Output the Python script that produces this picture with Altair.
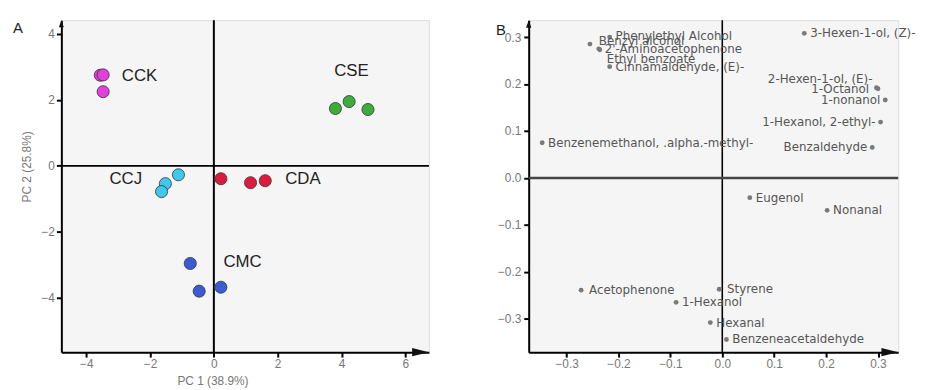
import altair as alt
import pandas as pd

# ---------------- Panel A: PCA scores ----------------
groups = ["CCK", "CCK", "CCK", "CSE", "CSE", "CSE", "CCJ", "CCJ", "CCJ",
          "CDA", "CDA", "CDA", "CMC", "CMC", "CMC"]
pc1 = [-3.56, -3.47, -3.47, 3.81, 4.24, 4.83, -1.11, -1.52, -1.64,
       0.22, 1.15, 1.61, -0.74, -0.46, 0.22]
pc2 = [2.75, 2.76, 2.25, 1.74, 1.95, 1.71, -0.27, -0.54, -0.78,
       -0.39, -0.51, -0.45, -2.96, -3.80, -3.68]

group_names = ["CCK", "CSE", "CCJ", "CDA", "CMC"]
group_colors = ["#e43ede", "#3fab3a", "#3ec8f0", "#e0193f", "#3b5bd6"]
group_label_x = [-2.33, 4.31, -2.76, 2.79, 0.90]
group_label_y = [2.72, 2.87, -0.39, -0.39, -2.93]

# ---------------- Panel B: loadings ----------------
compounds = ["Phenylethyl Alcohol", "Benzyl alcohol", "2'-Aminoacetophenone",
             "Ethyl benzoate", "Cinnamaldehyde, (E)-",
             "Benzenemethanol, .alpha.-methyl-", "3-Hexen-1-ol, (Z)-",
             "2-Hexen-1-ol, (E)-", "1-Octanol", "1-nonanol",
             "1-Hexanol, 2-ethyl-", "Benzaldehyde", "Eugenol", "Nonanal",
             "Acetophenone", "Styrene", "1-Hexanol", "Hexanal",
             "Benzeneacetaldehyde"]
load1 = [-0.217, -0.255, -0.238, -0.236, -0.217, -0.347, 0.158, 0.297, 0.300,
         0.314, 0.305, 0.289, 0.053, 0.202, -0.272, -0.006, -0.089, -0.023, 0.008]
load2 = [0.300, 0.285, 0.275, 0.273, 0.237, 0.075, 0.308, 0.192, 0.190,
         0.166, 0.119, 0.065, -0.042, -0.069, -0.239, -0.237, -0.265, -0.308, -0.344]

# axis ranges / ticks
A_X = [-4.78, 6.74]
A_Y = [-5.65, 4.42]
A_XTICKS = [-4, -2, 0, 2, 4, 6]
A_YTICKS = [-4, -2, 0, 2, 4]
B_X = [-0.373, 0.339]
B_Y = [-0.371, 0.336]
B_TICKS = [-0.3, -0.2, -0.1, 0.0, 0.1, 0.2, 0.3]

# ---------------- label layout (pixels) ----------------
RIGHT_LABELS = {"2-Hexen-1-ol, (E)-", "1-Octanol", "1-nonanol",
                "1-Hexanol, 2-ethyl-", "Benzaldehyde"}
NUDGE = {"Benzyl alcohol": (9, -3), "Ethyl benzoate": (7, 9),
         "2-Hexen-1-ol, (E)-": (-4, -9), "1-Octanol": (-9, 0),
         "Phenylethyl Alcohol": (6, -1), "Acetophenone": (8, 0),
         "Styrene": (8, 0)}

FONT = "Liberation Sans"
LBL_FONT = "DejaVu Sans"
ONE = pd.DataFrame({"k": [0]})
RIGHT_ARROW = "M0,0L-2,-0.5L-2,0.5Z"
UP_ARROW = "M0,0L-0.6,1.7L0.6,1.7Z"

# ===================== Panel A =====================
dfA = pd.DataFrame({"group": groups, "pc1": pc1, "pc2": pc2})
dfAL = pd.DataFrame({"group": group_names, "lx": group_label_x, "ly": group_label_y})

xA = alt.X("pc1:Q", scale=alt.Scale(domain=A_X, nice=False, zero=False),
           axis=alt.Axis(values=A_XTICKS, title="PC 1 (38.9%)", titleX=153,
                         titlePadding=6, format="d"))
yA = alt.Y("pc2:Q", scale=alt.Scale(domain=A_Y, nice=False, zero=False),
           axis=alt.Axis(values=A_YTICKS, title="PC 2 (25.8%)", titleY=148,
                         titlePadding=8, format="d"))

ptsA = alt.Chart(dfA).mark_circle(size=150, opacity=1, stroke="#333333",
                                   strokeWidth=0.8).encode(
    x=xA, y=yA,
    color=alt.Color("group:N", scale=alt.Scale(domain=group_names, range=group_colors),
                    legend=None))
zeroAx = alt.Chart(ONE).mark_rule(color="black", strokeWidth=2).encode(x=alt.datum(0))
zeroAy = alt.Chart(ONE).mark_rule(color="black", strokeWidth=2).encode(y=alt.datum(0))
lblA = alt.Chart(dfAL).mark_text(font=FONT, fontSize=17, color="#222222",
                                 baseline="middle", align="center").encode(
    x=alt.X("lx:Q"), y=alt.Y("ly:Q"), text="group:N")
arrAx = alt.Chart(ONE).mark_point(shape=RIGHT_ARROW, filled=True, size=289,
                                  color="#111111", opacity=1).encode(
    x=alt.datum(A_X[1]), y=alt.datum(A_Y[0]))
arrAy = alt.Chart(ONE).mark_point(shape=UP_ARROW, filled=True, size=70,
                                  color="#111111", opacity=1).encode(
    x=alt.datum(A_X[0]), y=alt.datum(A_Y[1]))
letA = alt.Chart(pd.DataFrame({"t": ["A"]})).mark_text(
    font=FONT, fontSize=15, color="#222222", align="left", baseline="middle").encode(
    x=alt.value(-49), y=alt.value(8), text="t:N")

panelA = alt.layer(zeroAx, zeroAy, ptsA, lblA, arrAx, arrAy, letA).properties(
    width=372, height=336)

# ===================== Panel B =====================
dfB = pd.DataFrame({"name": compounds, "l1": load1, "l2": load2})
xB = alt.X("l1:Q", scale=alt.Scale(domain=B_X, nice=False, zero=False),
           axis=alt.Axis(values=B_TICKS, title=None, format=".1f"))
yB = alt.Y("l2:Q", scale=alt.Scale(domain=B_Y, nice=False, zero=False),
           axis=alt.Axis(values=B_TICKS, title=None, format=".1f", labelPadding=3))

ptsB = alt.Chart(dfB).mark_circle(size=24, color="#7a7a7a", opacity=1).encode(x=xB, y=yB)
zeroBx = alt.Chart(ONE).mark_rule(color="black", strokeWidth=1.6).encode(x=alt.datum(0))
zeroBy = alt.Chart(ONE).mark_rule(color="#444444", strokeWidth=2.5).encode(y=alt.datum(0))

# group labels by their (align, dx, dy) layout
combos = {}
for n in compounds:
    align = "right" if n in RIGHT_LABELS else "left"
    dx, dy = NUDGE.get(n, (-5, 0) if align == "right" else (6, 0))
    combos.setdefault((align, dx, dy), []).append(n)

lblB = []
for (align, dx, dy), names in combos.items():
    lblB.append(
        alt.Chart(dfB).transform_filter(alt.FieldOneOfPredicate(field="name", oneOf=names))
        .mark_text(font=LBL_FONT, fontSize=12, color="#555555", align=align,
                   baseline="middle", dx=dx, dy=dy)
        .encode(x=alt.X("l1:Q"), y=alt.Y("l2:Q"), text="name:N"))

arrBx = alt.Chart(ONE).mark_point(shape=RIGHT_ARROW, filled=True, size=289,
                                  color="#111111", opacity=1).encode(
    x=alt.datum(B_X[1]), y=alt.datum(B_Y[0]))
arrBy = alt.Chart(ONE).mark_point(shape=UP_ARROW, filled=True, size=80,
                                  color="#111111", opacity=1).encode(
    x=alt.datum(B_X[0]), y=alt.datum(B_Y[1]))
letB = alt.Chart(pd.DataFrame({"t": ["B"]})).mark_text(
    font=FONT, fontSize=15, color="#222222", align="left", baseline="middle").encode(
    x=alt.value(-33), y=alt.value(10), text="t:N")

panelB = alt.layer(zeroBx, zeroBy, ptsB, *lblB, arrBx, arrBy, letB).properties(
    width=374, height=336)

chart = alt.hconcat(panelA, panelB, spacing=65).properties(
    padding={"left": 4, "top": 8, "right": 0, "bottom": 0}
).configure_view(
    fill="#f5f5f5", stroke="#dcdcdc"
).configure_axis(
    domainColor="black", domainWidth=2, tickColor="black", tickWidth=2, tickSize=5,
    labelColor="#777777", labelFont=FONT, labelFontSize=12,
    gridColor="#d4d4d4", gridDash=[3, 2], gridWidth=1,
    titleColor="#777777", titleFont=FONT, titleFontSize=12, titleFontWeight="normal"
)

chart.save("out.html", embed_options={"renderer": "svg", "actions": False})
